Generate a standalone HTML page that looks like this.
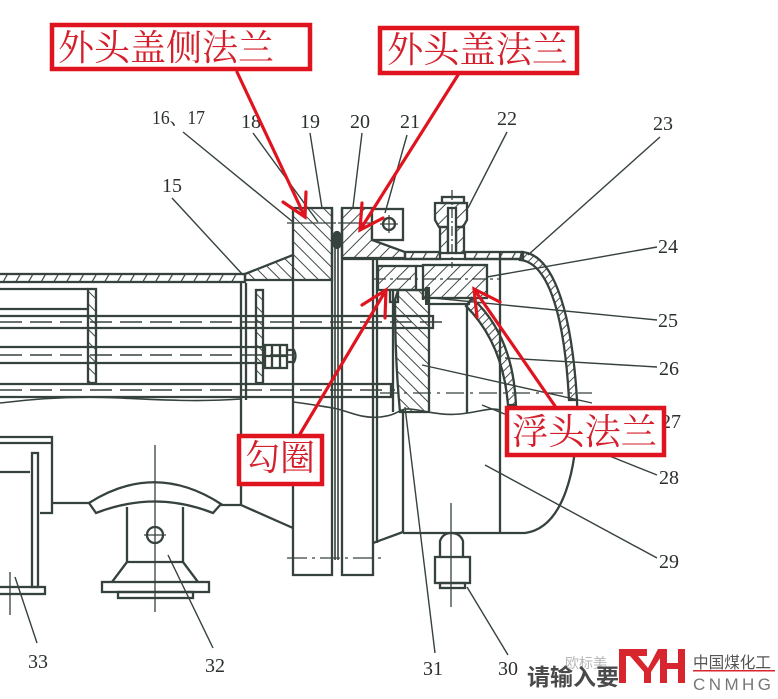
<!DOCTYPE html>
<html><head><meta charset="utf-8"><style>
html,body{margin:0;padding:0;background:#fff;}
body{width:778px;height:699px;overflow:hidden;}
svg{display:block;}
.n{font-family:"Liberation Serif","Noto Serif CJK SC",serif;font-size:20px;fill:#2a302d;}
.r{font-family:"Liberation Serif","Noto Serif CJK SC",serif;font-size:36px;fill:#d3202c;}
</style></head><body>
<svg width="778" height="699" viewBox="0 0 778 699" xmlns="http://www.w3.org/2000/svg">
<defs>
<pattern id="hb" width="9" height="9" patternUnits="userSpaceOnUse" patternTransform="rotate(-45)"><line x1="0" y1="0" x2="0" y2="9" stroke="#36423c" stroke-width="1.9"/></pattern>
<pattern id="hf" width="9" height="9" patternUnits="userSpaceOnUse" patternTransform="rotate(45)"><line x1="0" y1="0" x2="0" y2="9" stroke="#36423c" stroke-width="1.9"/></pattern>
<pattern id="tk" width="11" height="8" patternUnits="userSpaceOnUse" patternTransform="rotate(30)"><line x1="0" y1="0" x2="0" y2="8" stroke="#36423c" stroke-width="2.4"/></pattern>
<pattern id="tk2" width="6" height="6" patternUnits="userSpaceOnUse" patternTransform="rotate(45)"><line x1="0" y1="0" x2="0" y2="6" stroke="#36423c" stroke-width="1.8"/></pattern>
</defs>
<rect width="778" height="699" fill="#fff"/>

<g stroke="#36423c" stroke-width="2.3" fill="none">
<!-- shell top band -->
<rect x="-2" y="274" width="247" height="8" fill="url(#tk)"/>
<!-- upper-left box -->
<path d="M0 289 H88 M0 309 H88"/>
<rect x="88" y="289" width="8" height="94" fill="url(#hb)"/>
<rect x="256" y="290" width="7" height="93" fill="url(#hb)"/>
<path d="M241 283 V505 M246 283 V400"/>
<!-- tubes -->
<path d="M0 316 H433 V328 H0"/>
<path d="M0 347 H265 M0 363 H265"/>
<rect x="265" y="345" width="22" height="23"/>
<path d="M272 345 V368 M280 345 V368 M265 356 H287"/>
<path d="M287 350 H294 Q297 356 294 362 H287"/>
<path d="M0 384 H391 V397 H0"/>
<!-- break wavy line -->
<path stroke-width="1.6" d="M0 403 C40 398 80 396 120 398 S200 402 241 399 M293 402 C310 404 320 406 333 408 S360 419 380 417 S398 408 410 409 S440 416 460 414 S490 407 500 410"/>
<!-- left flange -->
<path d="M245 274 L293 255 V208 H332 V280 H245 Z" fill="url(#hb)"/>
<path d="M293 255 V575 H332 V208"/>
<path stroke-width="1.3" d="M287 223 H336"/>
<!-- gasket -->
<path d="M335 240 V560 M338 240 V560" stroke-width="1.6"/>
<rect x="334" y="232" width="6" height="16" rx="3" fill="#36423c"/>
<!-- cover flange -->
<path d="M342 208 H372 V240 L405 252 V258 H342 Z" fill="url(#hf)"/>
<path d="M342 208 V575 H373 V259"/>
<rect x="372" y="209" width="31" height="31" fill="#fff"/>
<circle cx="389" cy="224" r="6"/>
<path stroke-width="1.3" d="M380 224 H398 M389 215 V233"/>
<path stroke-width="1.3" d="M338 223 H372"/>
<!-- cover top band -->
<rect x="405" y="252" width="35" height="7" fill="url(#tk)"/>
<rect x="465" y="252" width="58" height="7" fill="url(#tk)"/>
<path d="M342 259 H523"/>
<!-- nozzle 22 -->
<path d="M435 203 H467 V220 L463 227 H439 L435 220 Z" fill="url(#hf)"/>
<rect x="440" y="227" width="8" height="26" fill="url(#hf)"/>
<rect x="456" y="227" width="8" height="26" fill="url(#hf)"/>
<rect x="448" y="208" width="8" height="45" fill="#fff"/>
<rect x="442" y="197" width="22" height="6"/>
<path stroke-width="1.3" d="M452 190 V268" stroke-dasharray="10 3 2 3"/>
<!-- dish head -->
<path d="M522 252 C550 254 571 300 577 400 L569 400 C564 305 545 262 520 260 Z" fill="url(#tk2)"/>
<path d="M577 400 C579 470 563 528 525 533 H403"/>
<path d="M500 253 V533"/>
<!-- floating head blocks -->
<rect x="378" y="266" width="38" height="24" fill="url(#hf)"/>
<path d="M416 266 H423 M416 290 H423 V300"/>
<rect x="423" y="265" width="64" height="33" fill="url(#hf)"/>
<rect x="390" y="290" width="8" height="12" fill="#fff"/>
<rect x="425" y="287" width="5" height="18" fill="#36423c" stroke="none"/>
<path d="M430 304 H470"/>
<path stroke-width="1.3" d="M372 279 H500" stroke-dasharray="14 4 3 4"/>
<!-- hook ring -->
<path d="M398 290 H426 V300 H429 V412 H400 Q395 360 395 300 Z" fill="url(#hb)"/>
<path d="M377 259 V543 M393 290 V412 M403 410 V533 M467 304 V413"/>
<!-- floating head cover arc -->
<path d="M472 298 Q513 335 516 405 L508 405 Q503 343 466 306 Z" fill="url(#tk2)"/>
<!-- lower body -->
<path d="M241 505 L293 528 M373 543 L403 532"/>
<path stroke-width="1.3" d="M380 393 H592" stroke-dasharray="18 6 3 6"/>
<path stroke-width="1.3" d="M287 558 H385" stroke-dasharray="20 5 3 5"/>
<!-- tube centerlines -->
<path stroke-width="1.5" d="M0 322 H442" stroke-dasharray="22 8"/>
<path stroke-width="1.5" d="M0 355 H300" stroke-dasharray="22 8"/>
<path stroke-width="1.5" d="M0 390 H395" stroke-dasharray="22 8"/>
<!-- nozzle 30 -->
<path d="M440 557 V541 Q443 533 451 533 Q460 533 463 541 V557"/>
<rect x="435" y="557" width="35" height="26"/>
<rect x="440" y="583" width="25" height="5"/>
<path stroke-width="1.3" d="M451 503 V607"/>
<!-- saddle 32 -->
<path d="M52 503 H90 M220 505 H241"/>
<path d="M89 503 Q155 461 221 504 L213 513 Q155 490 96 513 Z"/>
<path d="M127 507 V562 H183 V507 M127 562 L112 582 M183 562 L198 582"/>
<rect x="102" y="582" width="107" height="10"/>
<rect x="118" y="592" width="75" height="6"/>
<circle cx="155" cy="535" r="8"/>
<path stroke-width="1.3" d="M155 445 V612 M144 535 H166"/>
<!-- left box 33 -->
<path d="M0 437 H52 V513 H40 M0 443 H52 M0 472 H30"/>
<rect x="32" y="453" width="6" height="134"/>
<rect x="-2" y="587" width="47" height="7"/>
<path stroke-width="1.3" d="M10 572 V615"/>
</g>

<!-- leader lines -->
<g stroke="#36423c" stroke-width="1.4" fill="none">
<path d="M172 198 L243 275"/>
<path d="M183 132 L293 222"/>
<path d="M253 133 L318 222"/>
<path d="M310 133 L322 208"/>
<path d="M362 133 L353 207"/>
<path d="M407 135 L385 213"/>
<path d="M507 132 L468 208"/>
<path d="M660 137 L528 255"/>
<path d="M657 247 L487 277"/>
<path d="M657 320 L433 298"/>
<path d="M657 367 L505 358"/>
<path d="M422 365 L592 403"/>
<path d="M657 475 L482 405"/>
<path d="M657 558 L485 465"/>
<path d="M508 655 L467 587"/>
<path d="M435 653 L405 407"/>
<path d="M213 648 L168 555"/>
<path d="M37 643 L15 577"/>
</g>

<!-- numbers -->
<g class="n">
<text x="152" y="124" textLength="53" lengthAdjust="spacingAndGlyphs">16、17</text>
<text x="241" y="128">18</text>
<text x="300" y="128">19</text>
<text x="350" y="128">20</text>
<text x="400" y="128">21</text>
<text x="497" y="125">22</text>
<text x="653" y="130">23</text>
<text x="162" y="192">15</text>
<text x="658" y="253">24</text>
<text x="658" y="327">25</text>
<text x="659" y="375">26</text>
<text x="661" y="428">27</text>
<text x="659" y="484">28</text>
<text x="659" y="568">29</text>
<text x="498" y="675">30</text>
<text x="423" y="675">31</text>
<text x="205" y="672">32</text>
<text x="28" y="668">33</text>
</g>

<!-- red annotations -->
<g stroke="#e0141e" stroke-width="3.2" fill="none" stroke-linecap="round">
<path d="M237 72 L305 217 M283 202 L305 217 L306 192"/>
<path d="M458 75 L360 230 M362 203 L360 230 L383 218"/>
<path d="M300 434 L386 290 M362 305 L386 290 L385 318"/>
<path d="M555 406 L474 289 M500 302 L474 289 L477 317"/>
</g>
<g stroke="#e0141e" stroke-width="4.5" fill="#fff">
<rect x="52" y="25" width="258" height="44"/>
<rect x="380" y="28" width="197" height="45"/>
<rect x="239" y="436" width="83" height="48"/>
<rect x="507" y="408" width="157" height="47"/>
</g>
<g class="r">
<text x="58" y="60" textLength="216" lengthAdjust="spacingAndGlyphs">外头盖侧法兰</text>
<text x="387" y="62" textLength="181" lengthAdjust="spacingAndGlyphs">外头盖法兰</text>
<text x="245" y="470" textLength="70" lengthAdjust="spacingAndGlyphs">勾圈</text>
<text x="512" y="444" textLength="145" lengthAdjust="spacingAndGlyphs">浮头法兰</text>
</g>

<!-- watermark / logo -->
<text x="565" y="668" font-family="Liberation Sans,'Noto Sans CJK SC',sans-serif" font-size="14" fill="#b8b8b8">欧标美</text>
<text x="527" y="685" font-family="Liberation Sans,'Noto Sans CJK SC',sans-serif" font-size="23" font-weight="bold" fill="#4a4a4a" textLength="92" lengthAdjust="spacingAndGlyphs">请输入要</text>
<g fill="#d8262e">
<rect x="619" y="649" width="7" height="34"/>
<rect x="619" y="649" width="28" height="7"/>
<polygon points="630,656 638,656 648,668 658,649 666,649 651,672 651,683 644,683 644,672"/>
<rect x="660" y="649" width="7" height="34"/>
<rect x="678" y="649" width="7" height="34"/>
<rect x="660" y="663" width="25" height="6"/>
</g>
<text x="693" y="668" font-family="Liberation Sans,'Noto Sans CJK SC',sans-serif" font-size="16" fill="#555" textLength="78" lengthAdjust="spacingAndGlyphs">中国煤化工</text>
<rect x="693" y="670" width="82" height="1.5" fill="#d8262e"/>
<text x="693" y="690" font-family="Liberation Sans,sans-serif" font-size="17" fill="#777" textLength="78" lengthAdjust="spacing">CNMHG</text>
</svg>
</body></html>
